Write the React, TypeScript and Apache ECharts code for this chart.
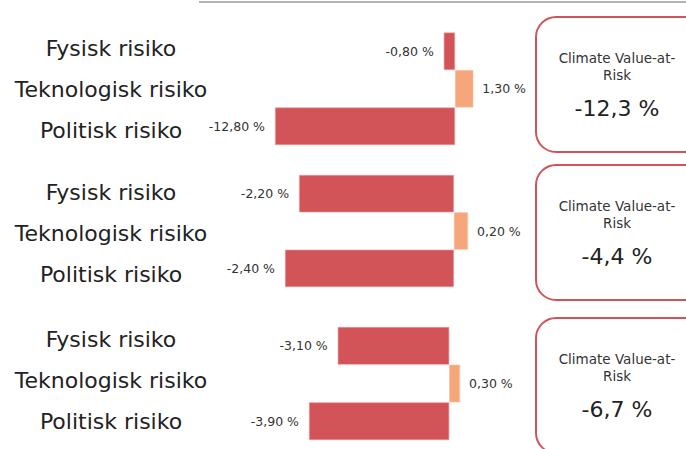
import React, { useEffect, useRef } from "react";
import * as echarts from "echarts";

const categories = ["Fysisk risiko", "Teknologisk risiko", "Politisk risiko"];
const panel1 = [-0.8, 1.3, -12.8];
const panel2 = [-2.2, 0.2, -2.4];
const panel3 = [-3.1, 0.3, -3.9];
const climateVaR = [-12.3, -4.4, -6.7];
const boxTitle = "Climate Value-at-\nRisk";

const RED = "#D35458";
const ORANGE = "#F5A77B";
const FONT = "'DejaVu Sans', sans-serif";

const panels = [panel1, panel2, panel3];
const barGrids = [
  { left: 275, top: 32.5, width: 198.3, height: 112.5 },
  { left: 285, top: 175, width: 183, height: 112 },
  { left: 309, top: 327, width: 151, height: 113 },
];
const labelGridTops = [27.5, 172, 318.5];
const boxTops = [17, 165, 318];

const fmt = (v: number, d: number) => v.toFixed(d).replace(".", ",") + " %";

export default function App() {
  const ref = useRef<HTMLDivElement>(null);
  useEffect(() => {
    document.body.style.margin = "0";
    const chart = echarts.init(ref.current!, null, { renderer: "svg" });
    const grid: any[] = [];
    const xAxis: any[] = [];
    const yAxis: any[] = [];
    const series: any[] = [];
    panels.forEach((vals, i) => {
      const g = barGrids[i];
      grid.push({ ...g, containLabel: false });
      xAxis.push({
        type: "value",
        gridIndex: i,
        min: Math.min(0, ...vals),
        max: Math.max(0, ...vals),
        show: false,
      });
      yAxis.push({
        type: "category",
        gridIndex: i,
        data: categories,
        inverse: true,
        show: false,
      });
      series.push({
        type: "bar",
        xAxisIndex: i,
        yAxisIndex: i,
        barCategoryGap: 0,
        data: vals.map((v) => ({
          value: v,
          itemStyle: {
            color: v < 0 ? RED : ORANGE,
            borderColor: v < 0 ? "#ec9a9c" : "#f8c2a2",
            borderWidth: 0.6,
          },
          label: {
            show: true,
            position: v < 0 ? "left" : "right",
            distance: v < 0 ? 10 : 9,
            formatter: () => fmt(v, 2),
            fontFamily: FONT,
            fontSize: 12.5,
            color: "#333",
          },
        })),
      });
    });
    // label grids (category names)
    labelGridTops.forEach((top, i) => {
      const idx = 3 + i;
      grid.push({ left: 222, top, width: 1, height: 123 });
      xAxis.push({ type: "value", gridIndex: idx, show: false, min: 0, max: 1 });
      yAxis.push({
        type: "category",
        gridIndex: idx,
        data: categories,
        inverse: true,
        axisLine: { show: false },
        axisTick: { show: false },
        axisLabel: {
          margin: 111,
          align: "center",
          fontFamily: FONT,
          fontSize: 22,
          color: "#222",
        },
      });
    });

    const graphic: any[] = [
      {
        type: "line",
        shape: { x1: 199, y1: 2, x2: 686, y2: 2 },
        style: { stroke: "#b3b3b3", lineWidth: 2 },
      },
    ];
    boxTops.forEach((top, i) => {
      graphic.push({
        type: "rect",
        shape: { x: 536, y: top, width: 170, height: 135, r: 20 },
        style: { fill: "#fff", stroke: RED, lineWidth: 2 },
      });
      graphic.push({
        type: "text",
        x: 617,
        y: top + 32,
        style: {
          text: boxTitle,
          textAlign: "center",
          textVerticalAlign: "top",
          font: `13.5px ${FONT}`,
          lineHeight: 17,
          fill: "#333",
        },
      });
      graphic.push({
        type: "text",
        x: 617,
        y: top + 91,
        style: {
          text: climateVaR[i].toFixed(1).replace(".", ",") + " %",
          textAlign: "center",
          textVerticalAlign: "middle",
          font: `22px ${FONT}`,
          fill: "#222",
        },
      });
    });

    chart.setOption({
      animation: false,
      backgroundColor: "#fff",
      grid,
      xAxis,
      yAxis,
      series,
      graphic,
    });
    return () => chart.dispose();
  }, []);
  return <div ref={ref} style={{ width: 686, height: 449 }} />;
}
